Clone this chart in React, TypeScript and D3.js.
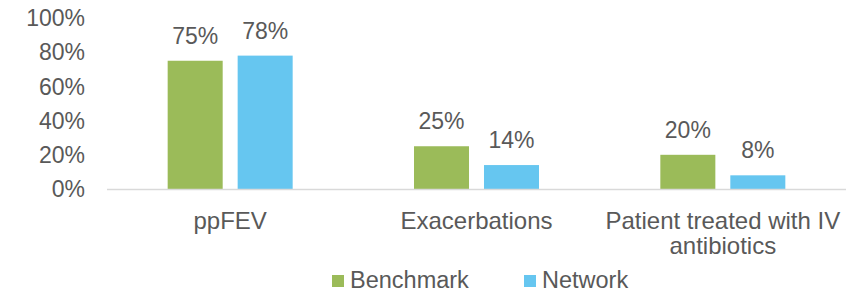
import { useRef, useEffect } from "react";
import * as d3 from "d3";

const categories = ["ppFEV", "Exacerbations", "Patient treated with IV antibiotics"];
const categoryLines = [["ppFEV"], ["Exacerbations"], ["Patient treated with IV", "antibiotics"]];
const seriesNames = ["Benchmark", "Network"];
const benchmark = [0.75, 0.25, 0.2];
const network = [0.78, 0.14, 0.08];
const yTicks = [0, 0.2, 0.4, 0.6, 0.8, 1];

const COLORS = ["#9BBB59", "#66C6F0"];
const TEXT = "#595959";
const FONT = "'Liberation Sans', Arial, sans-serif";
const W = 866;
const H = 293;

export default function App() {
  const svgRef = useRef<SVGSVGElement>(null);

  useEffect(() => {
    if (!svgRef.current) return;
    const svg = d3.select(svgRef.current);
    svg.selectAll("*").remove();

    const x0 = d3.scaleBand().domain(categories).range([107, 846]);
    const half = x0.bandwidth() / 2;
    const x1 = d3.scaleBand().domain(seriesNames).range([half - 62.5, half + 62.5]).paddingInner(0.214);
    const y = d3.scaleLinear().domain([0, 1]).range([189, 18]);

    // y tick labels
    svg.append("g")
      .selectAll("text")
      .data(yTicks)
      .join("text")
      .attr("x", 85)
      .attr("y", (d) => y(d))
      .attr("dy", "0.36em")
      .attr("text-anchor", "end")
      .attr("fill", TEXT)
      .style("font-family", FONT)
      .style("font-size", "23px")
      .text((d) => d3.format(".0%")(d));

    const data = categories.map((c, i) => ({ cat: c, vals: [benchmark[i], network[i]] }));

    const groups = svg.append("g")
      .selectAll("g")
      .data(data)
      .join("g")
      .attr("transform", (d) => `translate(${x0(d.cat)},0)`);

    groups.selectAll("rect")
      .data((d) => d.vals.map((v, j) => ({ s: seriesNames[j], v, j })))
      .join("rect")
      .attr("x", (d) => x1(d.s)!)
      .attr("y", (d) => y(d.v))
      .attr("width", x1.bandwidth())
      .attr("height", (d) => y(0) - y(d.v))
      .attr("fill", (d) => COLORS[d.j]);

    groups.selectAll("text.val")
      .data((d) => d.vals.map((v, j) => ({ s: seriesNames[j], v, j })))
      .join("text")
      .attr("class", "val")
      .attr("x", (d) => x1(d.s)! + x1.bandwidth() / 2)
      .attr("y", (d) => y(d.v) - 17)
      .attr("text-anchor", "middle")
      .attr("fill", TEXT)
      .style("font-family", FONT)
      .style("font-size", "23px")
      .text((d) => d3.format(".0%")(d.v));

    // baseline
    svg.append("line")
      .attr("x1", 107)
      .attr("x2", 846)
      .attr("y1", y(0) + 0.5)
      .attr("y2", y(0) + 0.5)
      .attr("stroke", "#D9D9D9")
      .attr("stroke-width", 1.5);

    // category labels
    categories.forEach((c, i) => {
      const t = svg.append("text")
        .attr("x", x0(c)! + half)
        .attr("y", 229)
        .attr("text-anchor", "middle")
        .attr("fill", TEXT)
        .style("font-family", FONT)
        .style("font-size", "24px");
      categoryLines[i].forEach((line, k) => {
        t.append("tspan")
          .attr("x", x0(c)! + half)
          .attr("dy", k === 0 ? 0 : 24.5)
          .text(line);
      });
    });

    // legend
    const legendX = [332, 524];
    seriesNames.forEach((s, j) => {
      svg.append("rect")
        .attr("x", legendX[j])
        .attr("y", 275)
        .attr("width", 12)
        .attr("height", 12)
        .attr("fill", COLORS[j]);
      svg.append("text")
        .attr("x", legendX[j] + 18)
        .attr("y", 288)
        .attr("fill", TEXT)
        .style("font-family", FONT)
        .style("font-size", "23.5px")
        .text(s);
    });
  }, []);

  return (
    <div style={{ position: "absolute", left: 0, top: 0 }}>
      <svg ref={svgRef} width={W} height={H} style={{ display: "block", background: "#fff" }} />
    </div>
  );
}
